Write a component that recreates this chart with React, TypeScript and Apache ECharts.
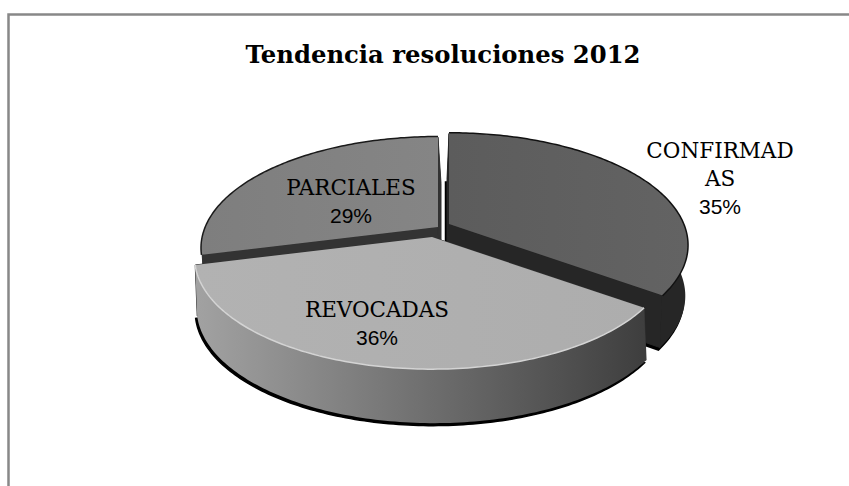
import React, { useEffect, useRef } from "react";
import * as echarts from "echarts";

// Share of resolutions per outcome, clockwise from twelve o'clock.
const titleText = "Tendencia resoluciones 2012";
const categories = ["CONFIRMADAS", "REVOCADAS", "PARCIALES"];
const shares = [35, 36, 29];

// Back slice first, so nearer slices paint over it.
const paintOrder = [2, 0, 1];

// Tilted-disc projection: nearer points spread out, farther points shrink.
const PERSPECTIVE = 0.189;
const TILT = 0.46;
const WRAP_CHARS = 9;

const sliceLooks = [
  {
    cx: 449, cy: 224, r: 234, lean: -2,
    top: ["#5c5c5c", "#636363"], wall: ["#262626", "#262626"], cut: "#262626",
    rim: "#111111", shine: "", labelX: 720, labelY: 150,
  },
  {
    cx: 432, cy: 237, r: 233, lean: 2,
    top: ["#b2b2b2", "#adadad"], wall: ["#a2a2a2", "#3e3e3e"], cut: "#333333",
    rim: "", shine: "#d4d4d4", labelX: 377, labelY: 309,
  },
  {
    cx: 438, cy: 227, r: 232, lean: 3,
    top: ["#7e7e7e", "#858585"], wall: ["#333333", "#333333"], cut: "#333333",
    rim: "#1a1a1a", shine: "", labelX: 351, labelY: 187,
  },
];

const LINE_STEP = 28.5;
const WALL_DEPTH = 50;

type Pt = [number, number];
type Look = (typeof sliceLooks)[number];

const totalShare = shares.reduce((a, b) => a + b, 0);

function startAngle(index: number): number {
  return (shares.slice(0, index).reduce((a, b) => a + b, 0) / totalShare) * 2 * Math.PI;
}

function topPoint(look: Look, t: number, radius = 1): Pt {
  const X = Math.sin(t) * radius;
  const Y = Math.cos(t) * radius;
  const s = 1 / (1 + PERSPECTIVE * Y);
  return [look.cx + look.r * X * s, look.cy - look.r * TILT * Y * s];
}

function floorPoint(look: Look, t: number, radius = 1): Pt {
  const [x, y] = topPoint(look, t, radius);
  const depth = WALL_DEPTH * (1 - 0.08 * Math.cos(t) * radius);
  return [x + look.lean, y + depth];
}

function sampleArc(a0: number, a1: number): number[] {
  const n = Math.max(2, Math.ceil((a1 - a0) / (Math.PI / 180)));
  const out: number[] = [];
  for (let i = 0; i <= n; i++) out.push(a0 + ((a1 - a0) * i) / n);
  return out;
}

function wrapName(name: string): string[] {
  const lines: string[] = [];
  for (let i = 0; i < name.length; i += WRAP_CHARS) lines.push(name.slice(i, i + WRAP_CHARS));
  return lines;
}

function renderSlice(_params: any, api: any) {
  const index = api.value(0) as number;
  const look = sliceLooks[index];
  const a0 = startAngle(index);
  const a1 = a0 + (api.value(1) / totalShare) * 2 * Math.PI;
  const angles = sampleArc(a0, a1);

  const topArc = angles.map((t) => topPoint(look, t));
  const floorArc = angles.map((t) => floorPoint(look, t));
  const topApex = topPoint(look, 0, 0);
  const floorApex = floorPoint(look, 0, 0);
  const children: any[] = [];

  // Cast shadow just below and left of the base.
  children.push({
    type: "polygon",
    shape: { points: [floorApex, ...floorArc].map(([x, y]) => [x - 1.5, y + 2.5]) },
    style: { fill: "#000000", stroke: "#000000", lineWidth: 1.5 },
  });

  // Radial cut faces at both ends of the slice.
  [0, angles.length - 1].forEach((arcIndex) => {
    children.push({
      type: "polygon",
      shape: { points: [topApex, topArc[arcIndex], floorArc[arcIndex], floorApex] },
      style: { fill: look.cut, stroke: look.cut, lineWidth: 1 },
    });
  });

  // Outer curved wall.
  children.push({
    type: "polygon",
    shape: { points: [...topArc, ...floorArc.slice().reverse()] },
    style: {
      fill: new echarts.graphic.LinearGradient(0, 0, 1, 0, [
        { offset: 0, color: look.wall[0] },
        { offset: 1, color: look.wall[1] },
      ]),
    },
  });

  if (look.rim) {
    children.push({
      type: "polyline",
      shape: { points: topArc },
      style: { fill: "none", stroke: look.rim, lineWidth: 3 },
    });
  }

  // Top face.
  children.push({
    type: "polygon",
    shape: { points: [topApex, ...topArc] },
    style: {
      fill: new echarts.graphic.LinearGradient(0, 0, 1, 0, [
        { offset: 0, color: look.top[0] },
        { offset: 1, color: look.top[1] },
      ]),
    },
  });

  if (look.shine) {
    children.push({
      type: "polyline",
      shape: { points: topArc },
      style: { fill: "none", stroke: look.shine, lineWidth: 1.5 },
    });
  }

  // Category name, wrapped, then the percentage in a sans face.
  const lines = wrapName(categories[index]);
  lines.forEach((line, i) => {
    children.push({
      type: "text",
      x: look.labelX,
      y: look.labelY + i * LINE_STEP,
      style: {
        text: line,
        fill: "#000000",
        font: '21.5px "DejaVu Serif"',
        align: "center",
        verticalAlign: "middle",
      },
    });
  });
  children.push({
    type: "text",
    x: look.labelX,
    y: look.labelY + lines.length * LINE_STEP - 0.5,
    style: {
      text: `${api.value(1)}%`,
      fill: "#000000",
      font: '21px "Liberation Sans"',
      align: "center",
      verticalAlign: "middle",
    },
  });

  return { type: "group", children };
}

export default function App() {
  const ref = useRef<HTMLDivElement>(null);

  useEffect(() => {
    if (!ref.current) return;
    const chart = echarts.init(ref.current, undefined, { renderer: "svg" });
    chart.setOption({
      animation: false,
      backgroundColor: "#ffffff",
      title: {
        text: titleText,
        left: 438,
        top: 37,
        textAlign: "center",
        textStyle: {
          fontFamily: "DejaVu Serif",
          fontWeight: "bold",
          fontSize: 24.3,
          color: "#000000",
        },
      },
      graphic: [
        {
          type: "rect",
          z: -1,
          shape: { x: 8.5, y: 14.5, width: 1000, height: 700 },
          style: { fill: "none", stroke: "#888888", lineWidth: 2.5 },
        },
      ],
      series: [
        {
          type: "custom",
          coordinateSystem: "none",
          renderItem: renderSlice,
          silent: true,
          data: paintOrder.map((i) => [i, shares[i]]),
        },
      ],
    });
    return () => chart.dispose();
  }, []);

  return <div ref={ref} style={{ position: "fixed", left: 0, top: 0, width: 849, height: 486 }} />;
}
